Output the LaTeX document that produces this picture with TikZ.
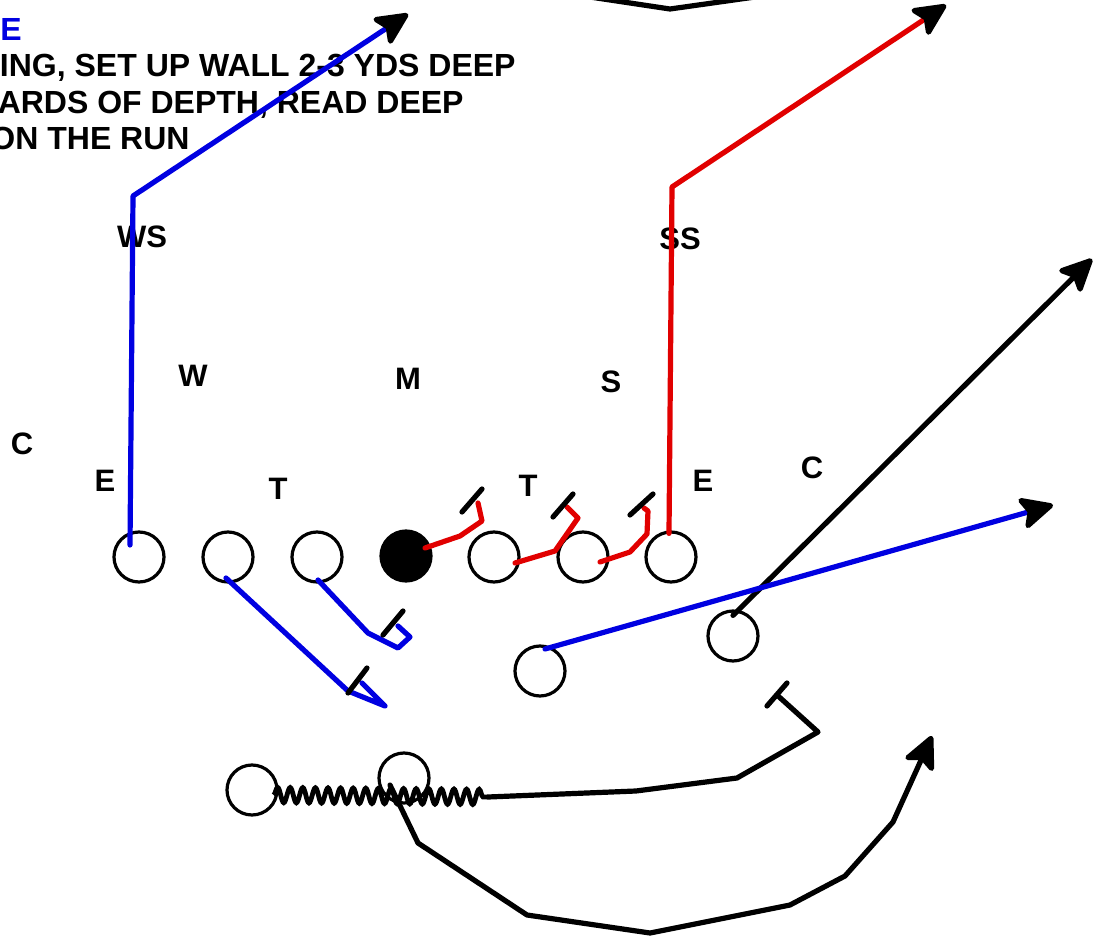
\documentclass[tikz,border=0pt]{standalone}
\usepackage{fontspec}
\setmainfont{Liberation Sans}
\usetikzlibrary{arrows.meta,decorations.pathmorphing}
\definecolor{rblue}{RGB}{0,0,225}
\definecolor{rred}{RGB}{225,0,0}
\begin{document}
\begin{tikzpicture}[x=0.5pt,y=-0.5pt,
  player/.style={circle,draw,line width=1.6pt,minimum size=25pt,inner sep=0pt},
  lbl/.style={font=\fontsize{15.5}{18}\selectfont\bfseries,inner sep=0pt},
  note/.style={font=\fontsize{16}{18}\selectfont\bfseries,inner sep=0pt,anchor=base east},
  route/.style={line width=2.6pt,line join=round,line cap=round},
  tip/.style={-{Stealth[length=19pt,width=18pt,inset=4pt,round,color=black]}},
  bar/.style={line width=2.6pt,line cap=round,black},
  coilline/.style={line width=2.4pt,decorate,decoration={snake,segment length=6.3pt,amplitude=3.8pt}},
]
\useasboundingbox (0,0) rectangle (1100,937);
\clip (0,0) rectangle (1100,937);

% notes (cut off at the left)
\node[note,text=rblue] (n0) at (22,40) {E};
\node[note] (n1) at (516,76) {ING, SET UP WALL 2-3 YDS DEEP};
\node[note] (n2) at (464,113) {ARDS OF DEPTH, READ DEEP};
\node[note] (n3) at (190,149) {ON THE RUN};

% labels
\node[lbl] (lws) at (142,237) {WS};
\node[lbl] (lss) at (680,239) {SS};
\node[lbl] (lw) at (193,376) {W};
\node[lbl] (lm) at (408,379) {M};
\node[lbl] (ls) at (611,382) {S};
\node[lbl] (lc1) at (22,444) {C};
\node[lbl] (le1) at (105,481) {E};
\node[lbl] (lt1) at (278,489) {T};
\node[lbl] (lt2) at (528,486) {T};
\node[lbl] (le2) at (703,481) {E};
\node[lbl] (lc2) at (812,468) {C};

% players
\node[player] (le) at (139,557) {};
\node[player] (lt) at (228,557) {};
\node[player] (lg) at (317,557) {};
\node[player,fill=black] (c) at (406,556) {};
\node[player] (rg) at (494,557) {};
\node[player] (rt) at (583,557) {};
\node[player] (re) at (671,557) {};
\node[player] (b1) at (540,671) {};
\node[player] (b2) at (733,636) {};
\node[player] (qb) at (404,778) {};
\node[player] (rb) at (252,790) {};

% top partial shape
\draw[route,line join=miter] (590,-3) -- (670,9) -- (755,-3);

% deep routes
\draw[route,rblue,tip] ([shift={(-9,-12)}]le.center) -- (133,196) -- (408,14);
\draw[route,rred,tip] ([shift={(-2,3)}]re.north) -- (672,187) -- (946,5);
\draw[route,tip] ([shift={(0,6)}]b2.north) -- (1092,259);
\draw[route,rblue,tip] ([shift={(5,-22)}]b1.center) -- (1053,505);

% red blocks
\draw[route,rred] ([shift={(19,-8)}]c.center) -- (460,536) -- (482,521) -- (478,503);
\draw[bar] (462,512) -- (482,489);
\draw[route,rred] ([shift={(21,6)}]rg.center) -- (555,551) -- (578,518) -- (567,507);
\draw[bar] (553,517) -- (573,494);
\draw[route,rred] ([shift={(17,5)}]rt.center) -- (630,552) -- (647,534) -- (648,511) -- (644,508);
\draw[bar] (630,515) -- (653,494);

% blue blocks
\draw[route,rblue] ([shift={(-2,21)}]lt.center) -- (348,691) -- (385,706) -- (362,683);
\draw[bar] (348,693) -- (367,668);
\draw[route,rblue] ([shift={(1,23)}]lg.center) -- (368,633) -- (398,648) -- (410,637) -- (398,626);
\draw[bar] (383,635) -- (403,611);

% back block and motion
\draw[bar] (767,706) -- (787,683);
\coordinate (coilend) at (488,797);
\draw[route] (777,695) -- (818,732) -- (737,778) -- (636,791) -- (coilend);
\draw[coilline] ([shift={(-5,5)}]rb.east) -- (coilend);

% QB route
\draw[route,tip] ([shift={(-14,7)}]qb.center) -- (418,843) -- (527,915) -- (650,933) -- (790,905) -- (845,876) -- (893,822) -- (932,736);
\end{tikzpicture}
\end{document}
